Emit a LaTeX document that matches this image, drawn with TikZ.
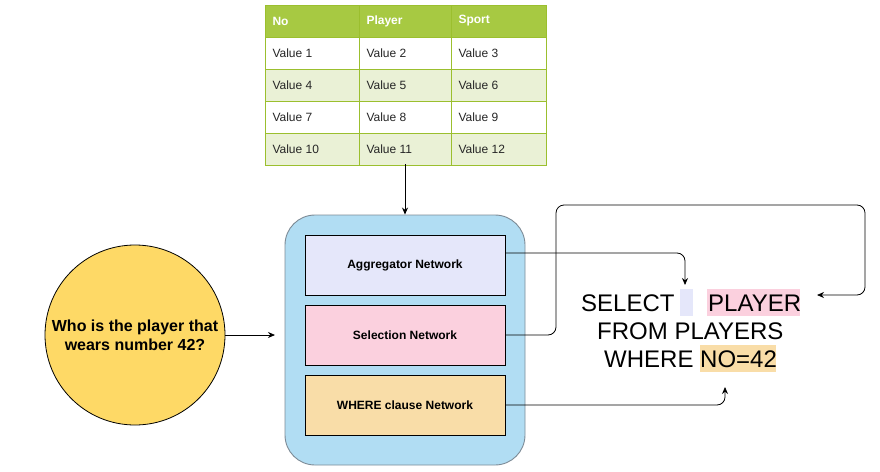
\documentclass[tikz,border=0pt]{standalone}
\usepackage{fontspec}
\setmainfont{Liberation Sans}
\usetikzlibrary{arrows.meta}
\definecolor{hdr}{HTML}{A7C942}
\definecolor{tblline}{HTML}{9BBF2E}
\definecolor{rowlt}{HTML}{EAF1D6}
\definecolor{bluebg}{HTML}{B1DDF3}
\definecolor{bluestroke}{HTML}{7D8B96}
\definecolor{aggc}{HTML}{E5E7FA}
\definecolor{selc}{HTML}{FBD0DE}
\definecolor{whc}{HTML}{F9DDA8}
\definecolor{circc}{HTML}{FED966}
\tikzset{
  cell/.style={draw=tblline, line width=0.8pt, minimum width=#1, minimum height=32pt, anchor=north west, inner sep=0pt},
  ctext/.style={anchor=west, font=\fontsize{12}{14}\selectfont, text=black!85},
  htext/.style={anchor=west, font=\fontsize{12}{14}\selectfont\bfseries, text=white},
  netbox/.style={draw=black, line width=0.9pt, minimum width=200pt, minimum height=60pt, inner sep=0pt, font=\fontsize{12}{14}\selectfont\bfseries},
  sql/.style={anchor=base west, font=\fontsize{24}{28}\selectfont, inner sep=0pt},
  conn/.style={-{Stealth[length=7pt,width=6pt]}, line width=0.8pt, rounded corners=8pt},
}
\begin{document}
\begin{tikzpicture}[x=1pt,y=-1pt]
\useasboundingbox (0,0) rectangle (880,471);
% table
\foreach \r/\fc in {0/hdr,1/white,2/rowlt,3/white,4/rowlt}{
  \foreach \c/\xx/\w in {0/265/94,1/359/92,2/451/95}{
    \node[cell=\w pt, fill=\fc] (t\r\c) at (\xx,{5+32*\r}) {};
  }
}
\node[htext] (h0) at (269,21) {No};
\node[htext] (h1) at (363,21) {Player};
\node[htext] (h2) at (455,21) {Sport};
\foreach \r in {1,2,3,4}{
  \pgfmathtruncatemacro{\a}{3*(\r-1)+1}
  \pgfmathtruncatemacro{\b}{3*(\r-1)+2}
  \pgfmathtruncatemacro{\cc}{3*(\r-1)+3}
  \node[ctext] (v\r a) at (269,{21+32*\r}) {Value \a};
  \node[ctext] (v\r b) at (363,{21+32*\r}) {Value \b};
  \node[ctext] (v\r c) at (455,{21+32*\r}) {Value \cc};
}
\coordinate (tbot) at (405,164);
% blue container
\node[draw=bluestroke, fill=bluebg, line width=0.9pt, rounded corners=30pt, minimum width=240pt, minimum height=250pt, inner sep=0pt] (cont) at (405,340) {};
\node[netbox, fill=aggc] (agg) at (405,265) {Aggregator Network};
\node[netbox, fill=selc] (sel) at (405,335) {Selection Network};
\node[netbox, fill=whc] (wh) at (405,405) {WHERE clause Network};
\draw[conn] (tbot) -- (cont.north);
% circle
\node[circle, draw=black, fill=circc, line width=0.8pt, minimum size=180pt, inner sep=0pt, align=center, font=\fontsize{16}{19}\selectfont\bfseries] (q) at (135,335) {Who is the player that\\wears number 42?};
\coordinate (qin) at (275,335);
\draw[conn] (q.east) -- (qin);
% SQL
\fill[aggc] (680,289) rectangle (693,316);
\fill[selc] (707,289) rectangle (800,316);
\fill[whc] (700,345) rectangle (776,372);
\node[sql] (s1) at (581,311) {SELECT};
\node[sql] (s2) at (708,311) {PLAYER};
\node[sql] (s3) at (597,339) {FROM PLAYERS};
\node[sql] (s4) at (604,367) {WHERE NO=42};
\coordinate (aggin) at (685,285);
\coordinate (selin) at (817,295);
\coordinate (whin) at (725,387);
\draw[conn] (agg.east |- 0,253) -- (685,253) -- (aggin);
\draw[conn] (sel.east) -- (556,335) -- (556,205) -- (865,205) -- (865,295) -- (selin);
\draw[conn] (wh.east) -- (725,405) -- (whin);
\end{tikzpicture}
\end{document}
